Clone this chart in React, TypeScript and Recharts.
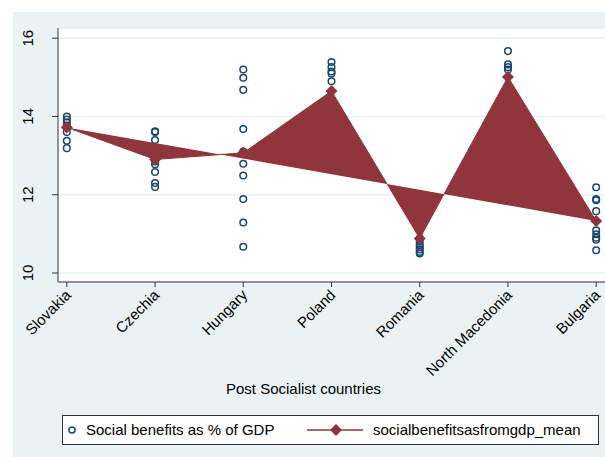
import { ComposedChart, Scatter, XAxis, YAxis, CartesianGrid, Legend } from "recharts";

const countries = ["Slovakia", "Czechia", "Hungary", "Poland", "Romania", "North Macedonia", "Bulgaria"];

// yearly observations, social benefits as % of GDP
const slovakia = [14.0, 13.92, 13.85, 13.77, 13.6, 13.38, 13.19];
const czechia = [13.62, 13.6, 13.4, 12.95, 12.85, 12.78, 12.58, 12.3, 12.2];
const hungary = [15.2, 14.99, 14.68, 13.68, 13.1, 12.79, 12.49, 11.89, 11.29, 10.67];
const poland = [15.39, 15.26, 15.15, 15.1, 14.9];
const romania = [10.88, 10.8, 10.72, 10.66, 10.6, 10.54, 10.5];
const northMacedonia = [15.67, 15.33, 15.26, 15.2];
const bulgaria = [12.19, 11.89, 11.86, 11.58, 11.09, 10.99, 10.9, 10.85, 10.58];

// country means
const means = [13.72, 12.9, 13.07, 14.65, 10.88, 15.01, 11.33];

const yTicks = [10, 12, 14, 16];

const NAVY = "#1a476f";
const MAROON = "#90353b";
const BG = "#eaf2f3";
const FONT = "'Liberation Sans', Arial, sans-serif";

const byCountry = [slovakia, czechia, hungary, poland, romania, northMacedonia, bulgaria];
const obsData = byCountry.flatMap((vals, i) => vals.map((v) => ({ x: i, y: v })));
const meanData = means.map((v, i) => ({ x: i, y: v }));

const Circle = (props: any) => (
  <circle cx={props.cx} cy={props.cy} r={3.3} fill="none" stroke={NAVY} strokeWidth={1.5} />
);

const Diamond = (props: any) => {
  const { cx, cy } = props;
  const d = 6;
  return <polygon points={`${cx},${cy - d} ${cx + d},${cy} ${cx},${cy + d} ${cx - d},${cy}`} fill={MAROON} />;
};

const XTick = ({ x, y, payload }: any) => {
  const tx = x + 5;
  const ty = y + 7;
  return (
    <text x={tx} y={ty} transform={`rotate(-45, ${tx}, ${ty})`} textAnchor="end" fontSize={15} fill="#000" fontFamily={FONT}>
      {countries[payload.value]}
    </text>
  );
};

const YTick = ({ x, y, payload }: any) => {
  const tx = x - 19;
  return (
    <text x={tx} y={y} transform={`rotate(-90, ${tx}, ${y})`} textAnchor="middle" fontSize={15} fill="#000" fontFamily={FONT}>
      {payload.value}
    </text>
  );
};

const LegendBox = () => (
  <div
    style={{
      boxSizing: "border-box",
      width: 537,
      height: 30,
      background: "#fff",
      border: "1px solid #333",
      fontFamily: FONT,
      fontSize: 15,
      position: "relative",
      color: "#000",
    }}
  >
    <svg width={535} height={28} style={{ position: "absolute", left: 0, top: 0 }}>
      <circle cx={9} cy={14} r={3} fill="none" stroke={NAVY} strokeWidth={1.5} />
      <text x={23} y={19} fontSize={15} fontFamily={FONT}>Social benefits as % of GDP</text>
      <line x1={244} x2={300} y1={14} y2={14} stroke={MAROON} strokeWidth={1.5} />
      <polygon points="273,8 279,14 273,20 267,14" fill={MAROON} />
      <text x={310} y={19} fontSize={15} fontFamily={FONT}>socialbenefitsasfromgdp_mean</text>
    </svg>
  </div>
);

export default function App() {
  return (
    <div style={{ position: "absolute", left: 0, top: 0, width: 605, height: 457, background: "#fff" }}>
      <div style={{ position: "absolute", left: 13, top: 12, width: 592, height: 445, background: BG }} />
      <div style={{ position: "absolute", left: 0, top: 0 }}>
        <ComposedChart width={605} height={457} margin={{ top: 28, right: 0, bottom: 0, left: 0 }}>
          <CartesianGrid vertical={false} fill="#fff" stroke={BG} strokeWidth={1.5} />
          <XAxis
            type="number"
            dataKey="x"
            domain={[-0.1, 6.1]}
            ticks={[0, 1, 2, 3, 4, 5, 6]}
            allowDataOverflow
            height={175}
            tickSize={5}
            stroke="#333"
            tick={<XTick />}
            interval={0}
            label={({ viewBox }: any) => (
              <text
                x={viewBox.x + viewBox.width / 2 - 28}
                y={viewBox.y + 112}
                textAnchor="middle"
                fontSize={15}
                fontFamily={FONT}
                fill="#000"
              >
                Post Socialist countries
              </text>
            )}
          />
          <YAxis
            type="number"
            dataKey="y"
            domain={[9.77, 16.26]}
            ticks={yTicks}
            allowDataOverflow
            width={58}
            tickSize={6}
            tickMargin={0}
            stroke="#333"
            tick={<YTick />}
          />
          <Scatter
            name="Social benefits as % of GDP"
            data={obsData}
            dataKey="y"
            shape={<Circle />}
            isAnimationActive={false}
          />
          <Scatter
            name="socialbenefitsasfromgdp_mean"
            data={meanData}
            dataKey="y"
            fill={MAROON}
            line={{ fill: MAROON, stroke: MAROON, strokeWidth: 1 }}
            lineType="joint"
            shape={<Diamond />}
            isAnimationActive={false}
          />
          <Legend
            layout="horizontal"
            verticalAlign="middle"
            align="center"
            content={<LegendBox />}
            wrapperStyle={{ left: 62, top: 415, bottom: "auto", width: 537, height: 30 }}
          />
        </ComposedChart>
      </div>
    </div>
  );
}
